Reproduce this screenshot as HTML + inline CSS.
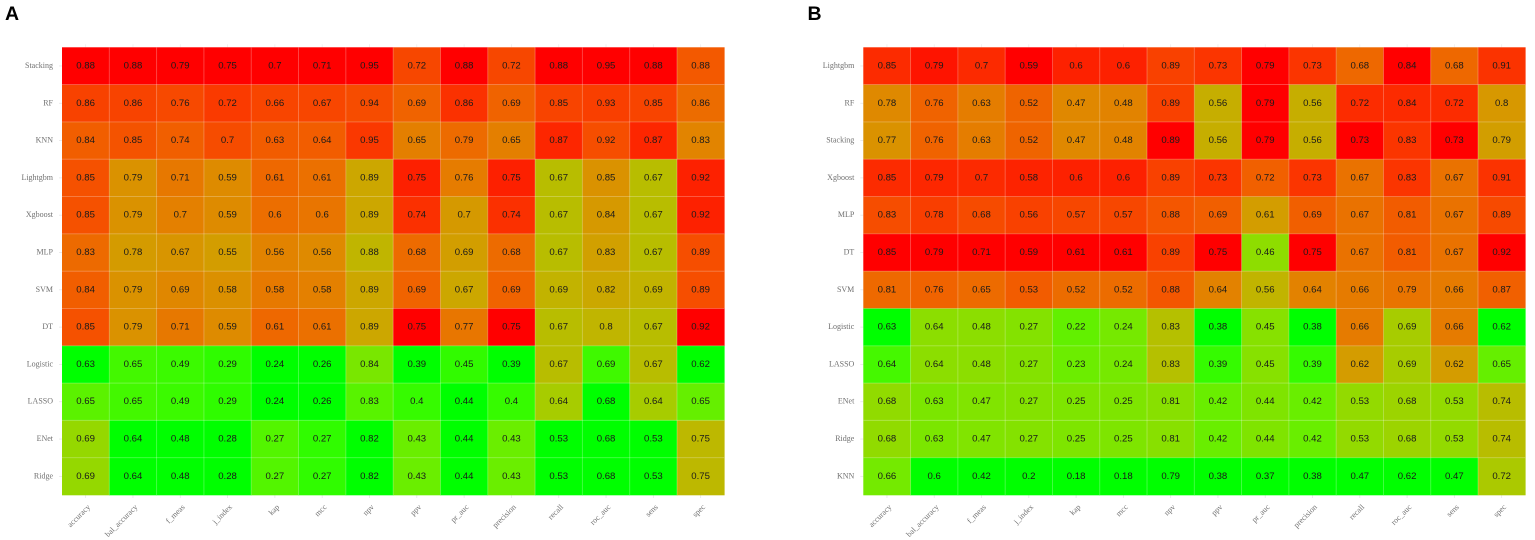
<!DOCTYPE html>
<html lang="en">
<head>
<meta charset="utf-8">
<title>Model metric heatmaps</title>
<style>
html,body{margin:0;padding:0;background:#fff;width:1535px;height:540px;overflow:hidden}
svg{display:block;filter:blur(0.35px)}
.val{font-family:"Liberation Sans",sans-serif;font-size:9.6px;fill:#1a1a1a;text-anchor:middle;dominant-baseline:central}
.ylab{font-family:"Liberation Serif",serif;font-size:8px;fill:#707070;text-anchor:end;dominant-baseline:central}
.xlab{font-family:"Liberation Serif",serif;font-size:8px;fill:#707070;text-anchor:end}
.panel{font-family:"Liberation Sans",sans-serif;font-size:19.5px;font-weight:bold;fill:#000}
</style>
</head>
<body>
<svg id="fig" width="1535" height="540" viewBox="0 0 1535 540" xmlns="http://www.w3.org/2000/svg"></svg>
<script>
const metrics = ["accuracy","bal_accuracy","f_meas","j_index","kap","mcc","npv","ppv","pr_auc","precision","recall","roc_auc","sens","spec"];

const modelsA = ["Stacking","RF","KNN","Lightgbm","Xgboost","MLP","SVM","DT","Logistic","LASSO","ENet","Ridge"];
const valuesA = [
 [0.88,0.88,0.79,0.75,0.7,0.71,0.954,0.72,0.88,0.72,0.88,0.95,0.88,0.88],
 [0.86,0.86,0.76,0.72,0.66,0.67,0.94,0.69,0.86,0.69,0.85,0.93,0.85,0.86],
 [0.84,0.85,0.74,0.7,0.63,0.64,0.946,0.65,0.79,0.65,0.87,0.92,0.87,0.83],
 [0.85,0.79,0.71,0.59,0.61,0.61,0.89,0.746,0.76,0.746,0.67,0.85,0.67,0.917],
 [0.85,0.79,0.7,0.59,0.6,0.6,0.89,0.738,0.7,0.738,0.67,0.84,0.67,0.917],
 [0.83,0.78,0.67,0.55,0.56,0.56,0.88,0.68,0.69,0.68,0.67,0.83,0.67,0.89],
 [0.84,0.79,0.69,0.58,0.58,0.58,0.89,0.69,0.67,0.69,0.69,0.82,0.69,0.89],
 [0.85,0.79,0.71,0.59,0.61,0.61,0.89,0.754,0.77,0.754,0.67,0.8,0.67,0.924],
 [0.63,0.65,0.49,0.29,0.24,0.26,0.84,0.39,0.45,0.39,0.67,0.69,0.67,0.62],
 [0.65,0.65,0.49,0.29,0.24,0.26,0.83,0.4,0.44,0.4,0.64,0.68,0.64,0.65],
 [0.69,0.64,0.48,0.28,0.27,0.27,0.82,0.43,0.44,0.43,0.53,0.68,0.53,0.75],
 [0.69,0.64,0.48,0.28,0.27,0.27,0.82,0.43,0.44,0.43,0.53,0.68,0.53,0.75]
];

const modelsB = ["Lightgbm","RF","Stacking","Xgboost","MLP","DT","SVM","Logistic","LASSO","ENet","Ridge","KNN"];
const valuesB = [
 [0.846,0.792,0.7,0.59,0.6,0.6,0.886,0.73,0.79,0.73,0.68,0.844,0.68,0.905],
 [0.78,0.76,0.63,0.52,0.47,0.48,0.886,0.56,0.79,0.56,0.72,0.836,0.72,0.8],
 [0.77,0.76,0.63,0.52,0.47,0.48,0.894,0.56,0.79,0.56,0.73,0.832,0.73,0.79],
 [0.846,0.788,0.7,0.58,0.6,0.6,0.886,0.73,0.72,0.73,0.67,0.832,0.67,0.905],
 [0.83,0.78,0.68,0.56,0.57,0.57,0.88,0.69,0.61,0.69,0.67,0.81,0.67,0.89],
 [0.854,0.794,0.71,0.59,0.61,0.61,0.886,0.75,0.46,0.75,0.67,0.81,0.67,0.92],
 [0.81,0.76,0.65,0.53,0.52,0.52,0.88,0.64,0.56,0.64,0.66,0.79,0.66,0.87],
 [0.63,0.64,0.48,0.27,0.22,0.24,0.83,0.38,0.45,0.38,0.66,0.69,0.66,0.62],
 [0.64,0.64,0.48,0.27,0.23,0.24,0.83,0.39,0.45,0.39,0.62,0.69,0.62,0.65],
 [0.68,0.63,0.47,0.27,0.25,0.25,0.81,0.42,0.44,0.42,0.53,0.68,0.53,0.74],
 [0.68,0.63,0.47,0.27,0.25,0.25,0.81,0.42,0.44,0.42,0.53,0.68,0.53,0.74],
 [0.66,0.6,0.42,0.2,0.18,0.18,0.79,0.38,0.37,0.38,0.47,0.62,0.47,0.72]
];

const NS = "http://www.w3.org/2000/svg";
const svg = document.getElementById("fig");

function make(tag, attrs, parent, text) {
  const el = document.createElementNS(NS, tag);
  for (const k in attrs) el.setAttribute(k, attrs[k]);
  if (text !== undefined) el.textContent = text;
  parent.appendChild(el);
  return el;
}

/* Lab-space green -> red ramp, as a ggplot gradient does */
function f(t){return t>0.008856?Math.cbrt(t):7.787*t+16/116;}
function fi(t){return t>0.206893?t*t*t:(t-16/116)/7.787;}
function lin(c){c/=255;return c>0.04045?Math.pow((c+0.055)/1.055,2.4):c/12.92;}
function gam(c){const v=c<=0.0031308?12.92*c:1.055*Math.pow(c,1/2.4)-0.055;return Math.round(255*Math.min(1,Math.max(0,v)));}
function toLab(r,g,b){
  const R=lin(r),G=lin(g),B=lin(b);
  const X=(0.4124*R+0.3576*G+0.1805*B)/0.95047,Y=0.2126*R+0.7152*G+0.0722*B,Z=(0.0193*R+0.1192*G+0.9505*B)/1.08883;
  return [116*f(Y)-16,500*(f(X)-f(Y)),200*(f(Y)-f(Z))];
}
function fromLab(L,a,b){
  const y=(L+16)/116,x=a/500+y,z=y-b/200;
  const X=0.95047*fi(x),Y=fi(y),Z=1.08883*fi(z);
  return [gam(3.2406*X-1.5372*Y-0.4986*Z),gam(-0.9689*X+1.8758*Y+0.0415*Z),gam(0.0557*X-0.2040*Y+1.0570*Z)];
}
const labLow = toLab(0,255,0), labHigh = toLab(255,0,0);
function ramp(t){
  const c = fromLab(labLow[0]+(labHigh[0]-labLow[0])*t, labLow[1]+(labHigh[1]-labLow[1])*t, labLow[2]+(labHigh[2]-labLow[2])*t);
  return "rgb("+c.join(",")+")";
}

function drawPanel(letter, letterX, left, right, models, values) {
  const top = 47.3, bottom = 495;
  const panel = make("g", {}, svg);
  
  

  const title = make("text", {x: letterX, y: 20, class: "panel"}, panel, letter);
  
  

  const cw = (right - left) / metrics.length;
  const ch = (bottom - top) / models.length;
  const xScale = i => left + cw * i;
  const yScale = j => top + ch * j;

  const mins = metrics.map((_, c) => Math.min(...values.map(r => r[c])));
  const maxs = metrics.map((_, c) => Math.max(...values.map(r => r[c])));

  models.forEach((m, j) => {
    const tick = make("line", {x1: left - 3, x2: left, y1: yScale(j) + ch / 2, y2: yScale(j) + ch / 2, stroke: "#e6e6e6", "stroke-width": 0.8}, panel);
    
    
    const lab = make("text", {x: left - 9, y: yScale(j) + ch / 2 - 0.5, class: "ylab"}, panel, m);
    
    
  });

  metrics.forEach((m, i) => {
    const cx = xScale(i) + cw / 2;
    const tickTop = make("line", {x1: cx, x2: cx, y1: top - 3, y2: top, stroke: "#eeeeee", "stroke-width": 0.8}, panel);
    
    
    const tick = make("line", {x1: cx, x2: cx, y1: bottom, y2: bottom + 3, stroke: "#e6e6e6", "stroke-width": 0.8}, panel);
    
    
    const lx = cx + 5, ly = 507.5;
    const lab = make("text", {x: lx, y: ly, class: "xlab", transform: "rotate(-45 " + lx + " " + ly + ")"}, panel, m);
    
    
  });

  values.forEach((row, j) => {
    row.forEach((v, i) => {
      const span = maxs[i] - mins[i];
      const t = span > 0 ? (v - mins[i]) / span : 0;
      const cell = make("rect", {x: xScale(i), y: yScale(j), width: cw + 0.3, height: ch + 0.3, fill: ramp(t)}, panel);
      
      
    });
  });

  for (let i = 1; i < metrics.length; i++) {
    const line = make("line", {x1: xScale(i), x2: xScale(i), y1: top, y2: bottom, stroke: "#fff", "stroke-opacity": 0.28, "stroke-width": 0.9}, panel);
    
    
  }
  for (let j = 1; j < models.length; j++) {
    const line = make("line", {x1: left, x2: right, y1: yScale(j), y2: yScale(j), stroke: "#fff", "stroke-opacity": 0.28, "stroke-width": 0.9}, panel);
    
    
  }

  values.forEach((row, j) => {
    row.forEach((v, i) => {
      const txt = make("text", {x: xScale(i) + cw / 2, y: yScale(j) + ch / 2, class: "val"}, panel, String(parseFloat(v.toFixed(2))));
      
      
    });
  });
}

drawPanel("A", 5, 62, 724.3, modelsA, valuesA);
drawPanel("B", 807.5, 863.3, 1525.3, modelsB, valuesB);
</script>
</body>
</html>
